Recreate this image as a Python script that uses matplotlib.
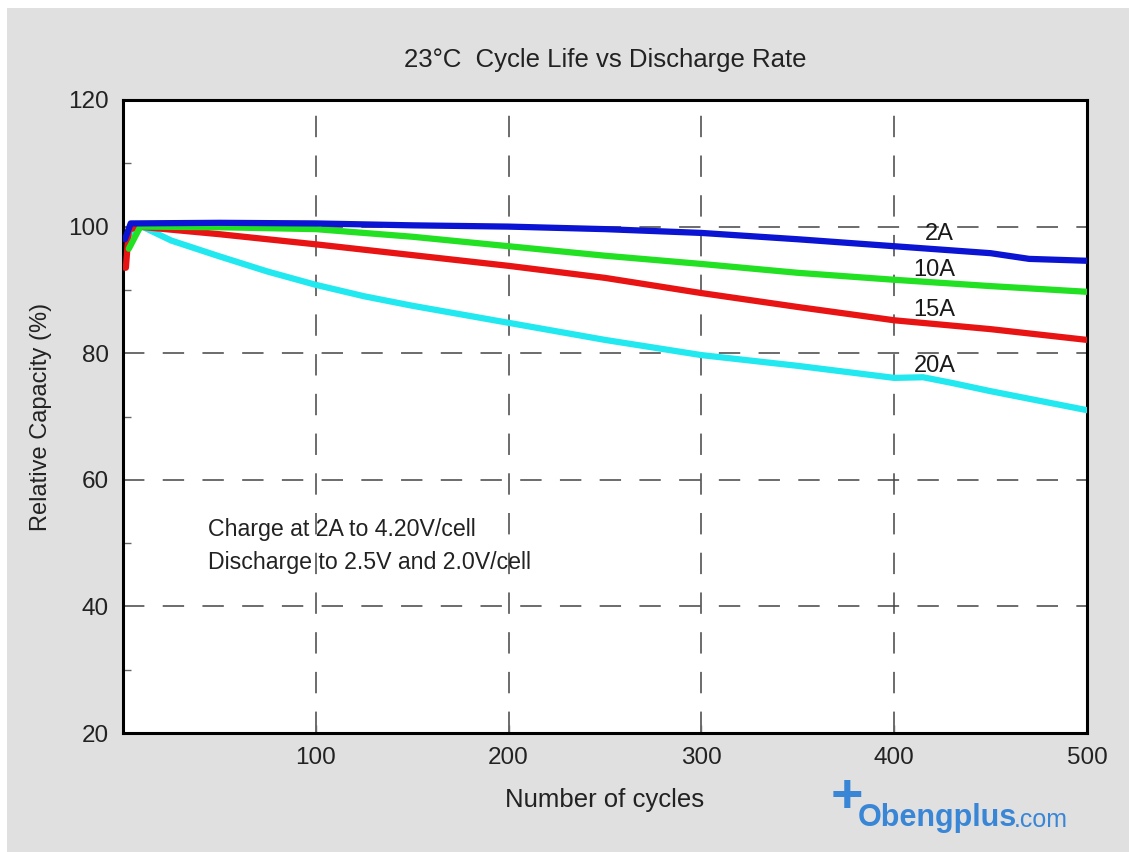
import matplotlib
matplotlib.use("Agg")
import matplotlib.pyplot as plt
from matplotlib.patches import Rectangle
from matplotlib.ticker import MultipleLocator

# ---- data ----
cycles_2a = [1, 4, 50, 100, 150, 200, 250, 300, 350, 400, 450, 470, 500]
cap_2a = [98.0, 100.5, 100.6, 100.5, 100.2, 100.0, 99.6, 99.0, 98.0, 96.9, 95.8, 94.9, 94.6]

cycles_10a = [3, 9, 50, 100, 150, 200, 250, 300, 350, 400, 450, 500]
cap_10a = [96.5, 100.0, 99.9, 99.6, 98.4, 96.9, 95.4, 94.1, 92.7, 91.6, 90.6, 89.7]

cycles_15a = [1, 1.5, 3, 8, 50, 100, 150, 200, 250, 300, 350, 400, 450, 500]
cap_15a = [93.5, 93.5, 99.5, 100.0, 98.8, 97.2, 95.5, 93.8, 91.9, 89.5, 87.3, 85.2, 83.8, 82.1]

cycles_20a = [2, 10, 25, 50, 75, 100, 125, 150, 200, 250, 300, 350, 400, 415, 430, 450, 500]
cap_20a = [98.5, 100.0, 97.8, 95.3, 92.9, 90.8, 89.0, 87.5, 84.8, 82.1, 79.7, 78.0, 76.1, 76.2, 75.3, 74.0, 71.0]

series_labels = ["2A", "10A", "15A", "20A"]
label_pos = [(416, 98.8), (410, 93.1), (410, 86.8), (410, 78.0)]
colors = ["#0a14d2", "#22e022", "#e81414", "#22e8f0"]

xticks = [100, 200, 300, 400, 500]
yticks = [20, 40, 60, 80, 100, 120]

plt.rcParams["font.family"] = ["Liberation Sans", "DejaVu Sans"]

fig = plt.figure(figsize=(11.29, 8.52), dpi=100)
fig.patch.set_facecolor("white")
fig.add_artist(Rectangle((7 / 1129, 0), 1 - 7 / 1129, 1 - 8 / 852, transform=fig.transFigure,
                         facecolor="#e0e0e0", edgecolor="none", zorder=-10))

ax = fig.add_axes([123 / 1129, 1 - 733 / 852, (1087 - 123) / 1129, (733 - 100) / 852])
ax.set_facecolor("white")

all_x = [cycles_2a, cycles_10a, cycles_15a, cycles_20a]
all_y = [cap_2a, cap_10a, cap_15a, cap_20a]
for i in [3, 2, 1, 0]:
    ax.plot(all_x[i], all_y[i], color=colors[i], lw=4.5, solid_capstyle="round",
            solid_joinstyle="round", zorder=3 + (3 - i))

for lab, (x, y) in zip(series_labels, label_pos):
    ax.text(x, y, lab, fontsize=17, color="#1a1a1a", ha="left", va="center", zorder=6)

ax.set_xlim(0, 500)
ax.set_ylim(20, 120)
ax.set_xticks(xticks)
ax.set_yticks(yticks)
ax.yaxis.set_minor_locator(MultipleLocator(10))
ax.tick_params(axis="both", which="both", direction="in", labelsize=17.5, colors="#222222")
ax.tick_params(axis="both", which="major", length=0, pad=10)
ax.tick_params(axis="y", which="minor", length=6, width=1, color="#666666")
ax.tick_params(axis="x", which="major", length=6, width=1, color="#666666")

for x in xticks[:-1]:
    ax.axvline(x, color="#444444", lw=1.1, dashes=(14, 12), zorder=1)
for y in [40, 60, 80, 100]:
    ax.axhline(y, color="#444444", lw=1.1, dashes=(14, 12), zorder=1)

for s in ax.spines.values():
    s.set_linewidth(2.2)
    s.set_color("black")

ax.set_xlabel("Number of cycles", fontsize=18.5, color="#222222", labelpad=14)
ax.set_ylabel("Relative Capacity (%)", fontsize=17, color="#222222", labelpad=12)
ax.set_title("23°C  Cycle Life vs Discharge Rate", fontsize=18.5, color="#222222", pad=24)

ax.text(44, 52.2, "Charge at 2A to 4.20V/cell", fontsize=16.7, color="#222222", va="center")
ax.text(44, 46.9, "Discharge to 2.5V and 2.0V/cell", fontsize=16.7, color="#222222", va="center")

# watermark
fig.text(831 / 1129, 1 - 798 / 852, "+", fontsize=40, color="#3a86d6", fontweight="bold",
         ha="left", va="center")
fig.text(858 / 1129, 1 - 818 / 852, "Obengplus", fontsize=22, color="#3a86d6", fontweight="bold",
         ha="left", va="center")
fig.text(1014 / 1129, 1 - 820 / 852, ".com", fontsize=18, color="#3a86d6",
         ha="left", va="center")

fig.savefig("out.png", dpi=100, facecolor=fig.get_facecolor())
